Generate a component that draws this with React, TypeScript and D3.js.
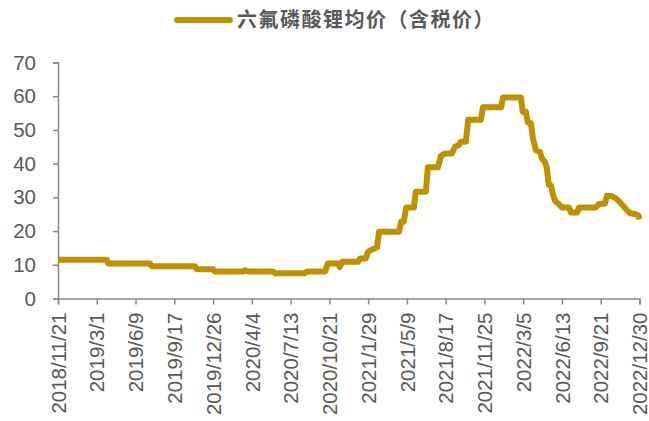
import { useEffect, useRef } from "react"
import * as d3 from "d3"

// 六氟磷酸锂均价（含税价），万元/吨
const dates = [
  "2018-11-21", "2019-03-27", "2019-03-30", "2019-07-16", "2019-07-21", "2019-11-09",
  "2019-11-14", "2019-12-26", "2019-12-31", "2020-03-12", "2020-03-17", "2020-03-25",
  "2020-05-29", "2020-06-03", "2020-08-19", "2020-08-24", "2020-10-10", "2020-10-17",
  "2020-11-12", "2020-11-17", "2020-11-23", "2021-01-03", "2021-01-08", "2021-01-23",
  "2021-01-29", "2021-02-08", "2021-02-21", "2021-02-26", "2021-04-19", "2021-04-24",
  "2021-05-01", "2021-05-07", "2021-05-27", "2021-06-01", "2021-06-27", "2021-07-02",
  "2021-07-28", "2021-08-05", "2021-08-15", "2021-09-02", "2021-09-10", "2021-09-20",
  "2021-09-25", "2021-10-08", "2021-10-14", "2021-11-16", "2021-11-21", "2022-01-07",
  "2022-01-12", "2022-02-27", "2022-03-04", "2022-03-12", "2022-03-17", "2022-03-25",
  "2022-03-30", "2022-04-07", "2022-04-17", "2022-04-22", "2022-04-30", "2022-05-05",
  "2022-05-10", "2022-05-16", "2022-05-21", "2022-05-26", "2022-06-03", "2022-06-13",
  "2022-07-01", "2022-07-06", "2022-07-22", "2022-07-27", "2022-09-09", "2022-09-16",
  "2022-10-02", "2022-10-07", "2022-10-20", "2022-10-30", "2022-11-10", "2022-11-25",
  "2022-12-06", "2022-12-21", "2022-12-28", "2022-12-30",
]
const prices = [
  11.5, 11.5, 10.4, 10.4, 9.6, 9.6,
  8.7, 8.7, 8.0, 8.0, 8.4, 8.0,
  8.0, 7.5, 7.5, 8.0, 8.0, 10.4,
  10.4, 9.3, 10.9, 10.9, 11.9, 11.9,
  13.9, 14.5, 15.2, 19.8, 19.8, 22.8,
  22.8, 27.0, 27.0, 31.7, 31.7, 38.9,
  38.9, 42.3, 43.0, 43.0, 45.0, 45.5,
  46.5, 46.5, 53.0, 53.0, 56.7, 56.7,
  59.6, 59.6, 55.4, 55.4, 52.2, 52.0,
  47.5, 44.0, 43.5, 41.6, 40.5, 38.6,
  33.7, 33.5, 30.7, 29.0, 28.2, 27.0,
  27.0, 25.5, 25.5, 27.0, 27.0, 28.0,
  28.2, 30.5, 30.3, 29.7, 28.5, 26.5,
  25.3, 25.0, 24.5, 23.5,
]
const tickDates = [
  "2018/11/21", "2019/3/1", "2019/6/9", "2019/9/17", "2019/12/26", "2020/4/4",
  "2020/7/13", "2020/10/21", "2021/1/29", "2021/5/9", "2021/8/17", "2021/11/25",
  "2022/3/5", "2022/6/13", "2022/9/21", "2022/12/30",
]
const yTicks = [0, 10, 20, 30, 40, 50, 60, 70]
const seriesName = "六氟磷酸锂均价（含税价）"

const parse = d3.timeParse("%Y-%m-%d")
const parseTick = d3.timeParse("%Y/%m/%d")

export default function App() {
  const svgRef = useRef<SVGSVGElement>(null)

  useEffect(() => {
    if (!svgRef.current) return
    const svg = d3.select(svgRef.current)
    svg.selectAll("*").remove()

    const width = 649
    const height = 421
    const gold = "#BF9000"
    const axisColor = "#898989"
    const textColor = "#595959"

    const data = dates.map((d, i) => ({ date: parse(d) as Date, value: prices[i] }))
    const ticks = tickDates.map((t) => parseTick(t) as Date)

    const x = d3
      .scaleTime()
      .domain([ticks[0], ticks[ticks.length - 1]])
      .range([58, 639.5])
    const y = d3.scaleLinear().domain([0, 70]).range([298.5, 62.5])

    svg.attr("width", width).attr("height", height)

    // Legend
    const legend = svg.append("g")
    legend
      .append("line")
      .attr("x1", 177)
      .attr("x2", 230)
      .attr("y1", 20)
      .attr("y2", 20)
      .attr("stroke", gold)
      .attr("stroke-width", 6)
      .attr("stroke-linecap", "round")
    legend
      .append("text")
      .attr("x", 237)
      .attr("y", 27)
      .style("font-family", "'Noto Sans CJK SC', sans-serif")
      .style("font-size", "20px")
      .style("font-weight", "bold")
      .style("letter-spacing", "1.5px")
      .style("fill", textColor)
      .text(seriesName)

    // Y axis
    const yAxis = svg
      .append("g")
      .attr("transform", `translate(${x.range()[0]},0)`)
      .call(d3.axisLeft(y).tickValues(yTicks).tickSize(5).tickPadding(17))
    yAxis.select(".domain").attr("stroke", axisColor).attr("stroke-width", 1.5)
    yAxis.selectAll(".tick line").attr("stroke", axisColor).attr("stroke-width", 1.5)
    yAxis
      .selectAll("text")
      .style("font-family", "'Liberation Sans', Arial, sans-serif")
      .style("font-size", "20.5px")
      .style("fill", textColor)

    // X axis
    const xAxis = svg
      .append("g")
      .attr("transform", `translate(0,${y(0)})`)
      .call(
        d3
          .axisBottom(x)
          .tickValues(ticks)
          .tickSize(6)
          .tickFormat((d) => d3.timeFormat("%Y/%-m/%-d")(d as Date))
      )
    xAxis.select(".domain").attr("stroke", axisColor).attr("stroke-width", 1.5)
    xAxis.selectAll(".tick line").attr("stroke", axisColor).attr("stroke-width", 1.5)
    xAxis
      .selectAll("text")
      .style("font-family", "'Liberation Sans', Arial, sans-serif")
      .style("font-size", "20.5px")
      .style("fill", textColor)
      .style("text-anchor", "end")
      .attr("transform", "rotate(-90)")
      .attr("x", -14)
      .attr("y", 0)
      .attr("dy", "0.35em")

    // Line
    const line = d3
      .line<{ date: Date; value: number }>()
      .x((d) => x(d.date))
      .y((d) => y(d.value))

    svg
      .append("path")
      .datum(data)
      .attr("fill", "none")
      .attr("stroke", gold)
      .attr("stroke-width", 6)
      .attr("stroke-linejoin", "round")
      .attr("stroke-linecap", "butt")
      .attr("d", line)
  }, [])

  return (
    <svg
      ref={svgRef}
      style={{ position: "absolute", left: 0, top: 0, background: "#fff" }}
    ></svg>
  )
}
